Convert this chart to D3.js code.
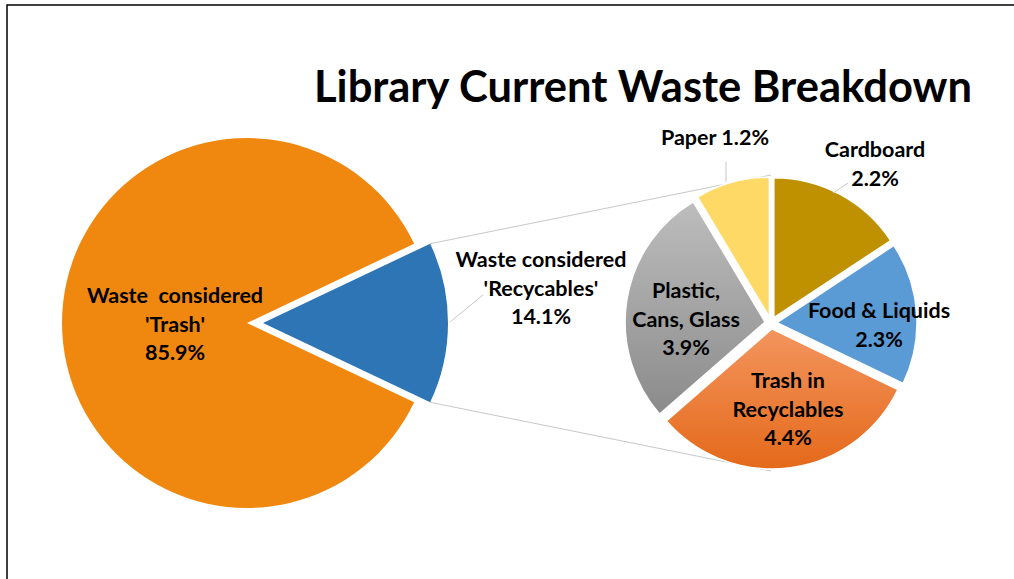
<!DOCTYPE html>
<html lang="en">
<head>
    <meta charset="UTF-8">
    <title>Library Current Waste Breakdown</title>
    <script src="https://cdnjs.cloudflare.com/ajax/libs/d3/7.8.5/d3.min.js"></script>
    <style>
        body {
            margin: 0;
            background: #ffffff;
            font-family: 'Lato', 'Open Sans', sans-serif;
        }

        .label {
            font-size: 21.5px;
            font-weight: 700;
            fill: #000000;
            text-anchor: middle;
        }

        .title {
            font-size: 43.5px;
            font-weight: 700;
            fill: #000000;
            text-anchor: middle;
        }

        .leader {
            stroke: #c8c8c8;
            stroke-width: 1;
            fill: none;
        }
    </style>
</head>
<body>
    <svg id="chart" width="1014" height="579"></svg>

    <script>
        // main pie: trash vs recyclables
        const mainNames = ["Waste  considered 'Trash'", "Waste considered 'Recycables'"];
        const mainLines = [["Waste  considered", "'Trash'", "85.9%"], ["Waste considered", "'Recycables'", "14.1%"]];
        const mainValues = [85.9, 14.1];

        // second pie: what is in the recyclables
        const subNames = ["Cardboard", "Food & Liquids", "Trash in Recyclables", "Plastic, Cans, Glass", "Paper"];
        const subLines = [["Cardboard", "2.2%"], ["Food & Liquids", "2.3%"], ["Trash in", "Recyclables", "4.4%"],
                          ["Plastic,", "Cans, Glass", "3.9%"], ["Paper 1.2%"]];
        const subValues = [2.2, 2.3, 4.4, 3.9, 1.2];

        const mainColors = ["#f0880f", "#2e75b6"];
        const subColors = ["#bf9000", "#5b9bd5", "url(#gradTrash)", "url(#gradPlastic)", "#ffd966"];

        const svg = d3.select('#chart');
        const lineH = 28.5;

        // frame (right and bottom run off the picture)
        svg.append('rect')
            .attr('x', 7).attr('y', 5)
            .attr('width', 1020).attr('height', 600)
            .attr('fill', 'none')
            .attr('stroke', '#000')
            .attr('stroke-width', 1.5);

        const defs = svg.append('defs');
        function vGrad(id, top, bottom) {
            const g = defs.append('linearGradient')
                .attr('id', id)
                .attr('x1', 0).attr('y1', 0).attr('x2', 0).attr('y2', 1);
            g.append('stop').attr('offset', '0%').attr('stop-color', top);
            g.append('stop').attr('offset', '100%').attr('stop-color', bottom);
        }
        vGrad('gradTrash', '#f3955e', '#e4691a');
        vGrad('gradPlastic', '#bdbdbd', '#8b8b8b');

        svg.append('text')
            .attr('class', 'title')
            .attr('x', 643).attr('y', 102)
            .text('Library Current Waste Breakdown');

        // ----- main pie -----
        const mc = { x: 247, y: 323 };
        const mr = 185;
        const recShare = mainValues[1] / d3.sum(mainValues);
        const mainPie = d3.pie().sort(null)
            .startAngle(Math.PI / 2 + Math.PI * recShare)
            .endAngle(Math.PI / 2 + Math.PI * recShare + 2 * Math.PI);
        const mainArcs = mainPie(mainValues);
        const mainArc = d3.arc().innerRadius(0).outerRadius(mr);
        const mainExplode = [0, 16];

        // second pie
        const sc = { x: 771, y: 323 };
        const sr = 140;
        const subPie = d3.pie().sort(null);
        const subArcs = subPie(subValues);
        const subArc = d3.arc().innerRadius(0).outerRadius(sr);
        const subExplode = 6;

        // connector lines between the two pies
        const rec = mainArcs[1];
        const recOff = mainExplode[1];
        [rec.startAngle, rec.endAngle].forEach((a, i) => {
            const x0 = mc.x + recOff + mr * Math.sin(a);
            const y0 = mc.y - mr * Math.cos(a);
            svg.append('line')
                .attr('class', 'leader')
                .attr('x1', x0).attr('y1', y0)
                .attr('x2', sc.x).attr('y2', sc.y + (i === 0 ? -1 : 1) * (sr + 8));
        });

        const mainG = svg.append('g').attr('transform', `translate(${mc.x},${mc.y})`);
        mainG.selectAll('path')
            .data(mainArcs)
            .join('path')
            .attr('d', mainArc)
            .attr('fill', (d, i) => mainColors[i])
            .attr('transform', (d, i) => {
                const a = (d.startAngle + d.endAngle) / 2;
                return `translate(${mainExplode[i] * Math.sin(a)},${-mainExplode[i] * Math.cos(a)})`;
            });

        const subG = svg.append('g').attr('transform', `translate(${sc.x},${sc.y})`);
        subG.selectAll('path')
            .data(subArcs)
            .join('path')
            .attr('d', subArc)
            .attr('fill', (d, i) => subColors[i])
            .attr('stroke', '#fff')
            .attr('stroke-width', 1.5)
            .attr('transform', d => {
                const a = (d.startAngle + d.endAngle) / 2;
                return `translate(${subExplode * Math.sin(a)},${-subExplode * Math.cos(a)})`;
            });

        // label anchors: centre x and first baseline, relative to each pie centre
        const mainLabelPos = [[-72, -20], [294, -56]];
        const subLabelPos = [[104, -166], [108, -5], [17, 65], [-85, -25], [-56, -178]];

        function drawLabel(g, lines, pos) {
            const t = g.append('text').attr('class', 'label');
            lines.forEach((s, k) => {
                t.append('tspan')
                    .attr('x', pos[0])
                    .attr('y', pos[1] + k * lineH)
                    .attr('xml:space', 'preserve')
                    .style('white-space', 'pre')
                    .text(s);
            });
        }

        mainLines.forEach((l, i) => drawLabel(mainG, l, mainLabelPos[i]));
        subLines.forEach((l, i) => drawLabel(subG, l, subLabelPos[i]));

        // leader lines for the outside labels
        mainG.append('line').attr('class', 'leader')
            .attr('x1', 203).attr('y1', -1).attr('x2', 236).attr('y2', -28);
        subG.append('line').attr('class', 'leader')
            .attr('x1', -45).attr('y1', -161).attr('x2', -45).attr('y2', -141);
        subG.append('line').attr('class', 'leader')
            .attr('x1', 62).attr('y1', -130).attr('x2', 77).attr('y2', -140);
    </script>
</body>
</html>
